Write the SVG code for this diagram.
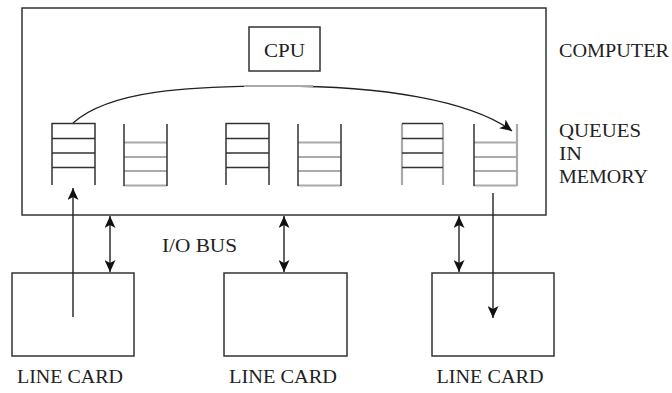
<svg xmlns="http://www.w3.org/2000/svg" width="672" height="393" viewBox="0 0 672 393">
<style>
.box{fill:none;stroke:#333;stroke-width:1.5}
.q{stroke:#333;stroke-width:1.5;fill:none}
.g{stroke:#aaa;stroke-width:2.2;fill:none}
.ln{stroke:#222;stroke-width:1.4;fill:none}
text{font-family:"Liberation Serif","Times New Roman",serif;font-size:18px;fill:#222}
</style>
<defs>
<marker id="ah" viewBox="0 0 12 11" refX="12" refY="5.5" markerWidth="12" markerHeight="11" markerUnits="userSpaceOnUse" orient="auto-start-reverse">
<path d="M0,0 L12,5.5 L0,11 L3,5.5 Z" fill="#111"/>
</marker>
</defs>
<rect width="672" height="393" fill="#fff"/>
<g id="computer">
<rect class="box" x="22" y="8" width="524" height="207"/>
</g>
<g id="cpu">
<rect class="box" x="249" y="27" width="71" height="44"/>
<text x="284.5" y="57" text-anchor="middle" textLength="41" lengthAdjust="spacingAndGlyphs">CPU</text>
</g>
<g id="queue1">
<path class="q" d="M52,185 V123.5 H95 V185 M52,138.5 H95 M52,153 H95 M52,167.5 H95"/>
</g>
<g id="queue2">
<path class="g" d="M124,142.5 H167 M124,157 H167 M124,171 H167 M124,185.5 H167"/>
<path class="q" d="M124,124 V186 M167,124 V186"/>
</g>
<g id="queue3">
<path class="q" d="M226,185 V123.5 H269 V185 M226,138.5 H269 M226,153 H269 M226,167.5 H269"/>
</g>
<g id="queue4">
<path class="g" d="M298,142.5 H341 M298,157 H341 M298,171 H341 M298,185.5 H341"/>
<path class="q" d="M298,124 V186 M341,124 V186"/>
</g>
<g id="queue5">
<path class="g" d="M402,123.5 V185 M443,123.5 V185"/>
<path class="q" d="M402,123.5 H443 M402,138.5 H443 M402,153 H443 M402,167.5 H443"/>
</g>
<g id="queue6">
<path class="g" d="M474,142.5 H517 M474,157 H517 M474,171 H517 M474,185.5 H517 M517,124 V186"/>
<path class="q" d="M474,124 V186"/>
</g>
<g id="linecard1">
<rect class="box" x="12" y="273" width="122" height="83"/>
<text x="70" y="383" text-anchor="middle" textLength="106" lengthAdjust="spacingAndGlyphs">LINE CARD</text>
</g>
<g id="linecard2">
<rect class="box" x="224" y="273" width="123" height="83"/>
<text x="283" y="383" text-anchor="middle" textLength="108" lengthAdjust="spacingAndGlyphs">LINE CARD</text>
</g>
<g id="linecard3">
<rect class="box" x="432" y="273" width="122" height="83"/>
<text x="490" y="383" text-anchor="middle" textLength="107" lengthAdjust="spacingAndGlyphs">LINE CARD</text>
</g>
<g id="labels">
<text x="559" y="57" textLength="110" lengthAdjust="spacingAndGlyphs">COMPUTER</text>
<text x="559" y="137" textLength="82" lengthAdjust="spacingAndGlyphs">QUEUES</text>
<text x="559" y="160" textLength="23" lengthAdjust="spacingAndGlyphs">IN</text>
<text x="559" y="183" textLength="89" lengthAdjust="spacingAndGlyphs">MEMORY</text>
<text x="162" y="252" textLength="75" lengthAdjust="spacingAndGlyphs">I/O BUS</text>
</g>
<g id="connectors">
<path class="ln" d="M73,123 C110,90 190,86 280,86 C380,86 470,100 512,131" marker-end="url(#ah)"/>
<path d="M244,86 H313" stroke="#aaa" stroke-width="1.8" fill="none"/>
<path class="ln" d="M73,317 V188" marker-end="url(#ah)"/>
<path class="ln" d="M493,193 V318" marker-end="url(#ah)"/>
<path class="ln" d="M110,216 V272" marker-start="url(#ah)" marker-end="url(#ah)"/>
<path class="ln" d="M284,216 V272" marker-start="url(#ah)" marker-end="url(#ah)"/>
<path class="ln" d="M459,216 V272" marker-start="url(#ah)" marker-end="url(#ah)"/>
</g>
</svg>
